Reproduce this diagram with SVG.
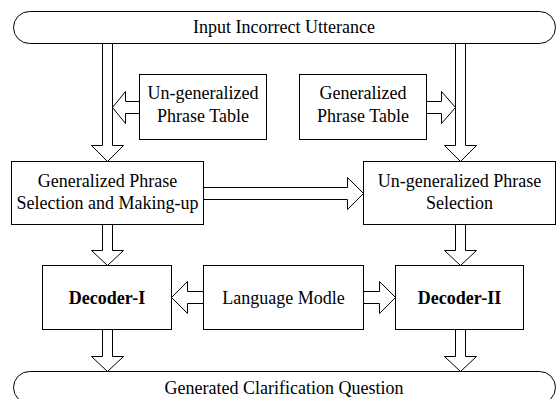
<svg xmlns="http://www.w3.org/2000/svg" width="557" height="399" viewBox="0 0 557 399">
<style>
.box{fill:#fff;stroke:#000;stroke-width:1}
.arr{fill:#fff;stroke:#000;stroke-width:1;stroke-linejoin:miter}
text{font-family:"Liberation Serif","Times New Roman",serif;font-size:18px;fill:#000;text-anchor:middle}
.b{font-weight:bold}
</style>
<rect width="557" height="399" fill="#fff"/>
<g id="input">
<rect class="box" x="13.5" y="11.5" width="542" height="32" rx="16" ry="16"/>
<text x="284" y="33">Input Incorrect Utterance</text>
</g>
<g id="output">
<rect class="box" x="13.5" y="371.5" width="542" height="32" rx="16" ry="16"/>
<text x="284" y="394">Generated Clarification Question</text>
</g>
<g id="ungen-table">
<rect class="box" x="139.5" y="74.5" width="127" height="65"/>
<text x="203" y="99">Un-generalized</text>
<text x="203" y="122">Phrase Table</text>
</g>
<g id="gen-table">
<rect class="box" x="299.5" y="74.5" width="127" height="65"/>
<text x="363" y="99">Generalized</text>
<text x="363" y="122">Phrase Table</text>
</g>
<g id="gen-selection">
<rect class="box" x="11.5" y="161.5" width="192" height="63"/>
<text x="107.5" y="187">Generalized Phrase</text>
<text x="107.5" y="209">Selection and Making-up</text>
</g>
<g id="ungen-selection">
<rect class="box" x="363.5" y="161.5" width="192" height="63"/>
<text x="459.5" y="187">Un-generalized Phrase</text>
<text x="459.5" y="209">Selection</text>
</g>
<g id="decoder1">
<rect class="box" x="42.5" y="265.5" width="129" height="64"/>
<text class="b" x="107" y="304">Decoder-I</text>
</g>
<g id="lm">
<rect class="box" x="203.5" y="265.5" width="160" height="64"/>
<text x="283.5" y="304">Language Modle</text>
</g>
<g id="decoder2">
<rect class="box" x="395.5" y="265.5" width="128" height="64"/>
<text class="b" x="459.5" y="304">Decoder-II</text>
</g>
<g id="connectors">
<polygon class="arr" points="102.5,43.5 102.5,145.5 91.5,145.5 107.5,161.5 123.5,145.5 112.5,145.5 112.5,43.5"/>
<polygon class="arr" points="455.5,43.5 455.5,145.5 444.5,145.5 460.5,161.5 476.5,145.5 465.5,145.5 465.5,43.5"/>
<polygon class="arr" points="102.5,224.5 102.5,250.5 91.5,250.5 107.5,265.5 123.5,250.5 112.5,250.5 112.5,224.5"/>
<polygon class="arr" points="455.5,224.5 455.5,250.5 444.5,250.5 460.5,265.5 476.5,250.5 465.5,250.5 465.5,224.5"/>
<polygon class="arr" points="102.5,329.5 102.5,356.5 91.5,356.5 107.5,371.5 123.5,356.5 112.5,356.5 112.5,329.5"/>
<polygon class="arr" points="455.5,329.5 455.5,356.5 444.5,356.5 460.5,371.5 476.5,356.5 465.5,356.5 465.5,329.5"/>
<polygon class="arr" points="139.5,101.5 125.5,101.5 125.5,91.5 112.5,107.5 125.5,123.5 125.5,113.5 139.5,113.5"/>
<polygon class="arr" points="426.5,101.5 441.5,101.5 441.5,91.5 455.5,107.5 441.5,123.5 441.5,113.5 426.5,113.5"/>
<polygon class="arr" points="203.5,187.5 347.5,187.5 347.5,177.5 363.5,193.5 347.5,209.5 347.5,199.5 203.5,199.5"/>
<polygon class="arr" points="203.5,291.5 187.5,291.5 187.5,281.5 171.5,297.5 187.5,313.5 187.5,303.5 203.5,303.5"/>
<polygon class="arr" points="363.5,291.5 379.5,291.5 379.5,281.5 395.5,297.5 379.5,313.5 379.5,303.5 363.5,303.5"/>
</g>
</svg>
